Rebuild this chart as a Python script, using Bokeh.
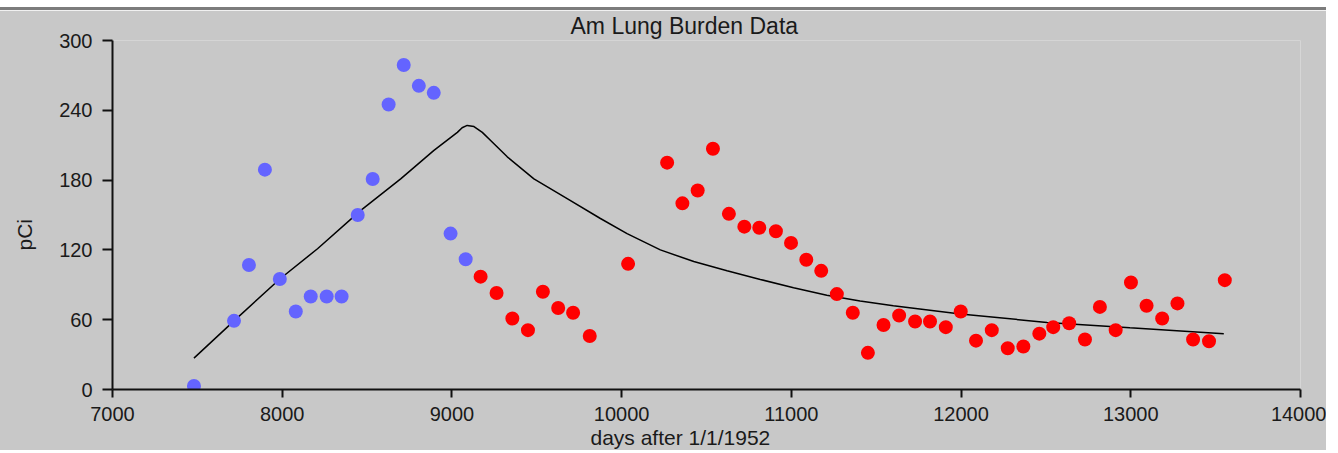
import math
from bokeh.plotting import figure
from bokeh.models import Range1d, FixedTicker, Title
from bokeh.embed import file_html
from bokeh.resources import INLINE

# ---- data ----
blue_x = [7480, 7716, 7804, 7898, 7986, 8080, 8168, 8262, 8350, 8445, 8533,
          8627, 8716, 8805, 8893, 8992, 9081]
blue_y = [3, 59, 107, 189, 95, 67, 80, 80, 80, 150, 181, 245, 279, 261, 255,
          134, 112]

red_x = [9169, 9263, 9356, 9448, 9536, 9626, 9714, 9812, 10038, 10268, 10358,
         10448, 10538, 10632, 10723, 10811, 10909, 10998, 11088, 11176, 11268,
         11362, 11451, 11543, 11635, 11729, 11817, 11910, 11998, 12088, 12181,
         12275, 12367, 12461, 12543, 12637, 12730, 12818, 12911, 13001, 13093,
         13185, 13275, 13367, 13461, 13554]
red_y = [97, 83, 61, 51, 84, 70, 66, 46, 108, 195, 160, 171, 207, 151, 140,
         139, 136, 126, 111.5, 102, 82, 66, 31.5, 55.5, 63.6, 58.5, 58.5, 53.6,
         67, 42, 51, 35.5, 37, 48, 53.6, 57, 43, 71, 51, 92, 72, 61, 74, 43,
         41.5, 94]

model_x = [7480, 7716, 7986, 8208, 8463, 8698, 8894, 9032, 9060, 9090, 9130,
           9179, 9228, 9326, 9483, 9679, 9875, 10032, 10228, 10425, 10621,
           10817, 11013, 11209, 11405, 11601, 11996, 12506, 12995, 13548]
model_y = [27, 59, 95, 121, 154, 181, 205.5, 221, 225, 227, 226, 221, 214,
           200, 181, 164, 147, 134, 120, 110, 102, 94.6, 87.4, 81, 76, 72, 65,
           57.6, 53, 48]

x_ticks = [7000, 8000, 9000, 10000, 11000, 12000, 13000, 14000]
y_ticks = [0, 60, 120, 180, 240, 300]

title_text = "Am Lung Burden Data"
x_label = "days after 1/1/1952"
y_label = "pCi"

BG = "#c8c8c8"
FONT = "Liberation Sans"
TXT = "#1a1a1a"

p = figure(width=1338, height=443, output_backend="svg", toolbar_location=None,
           x_range=Range1d(7000, 14000), y_range=Range1d(0, 300),
           min_border_left=124, min_border_right=26, min_border_top=30,
           min_border_bottom=64, title=None)
p.styles = {"margin-top": "7px", "margin-left": "-12px",
            "border-top": "3px solid #7c7c7c"}
p.background_fill_color = BG
p.border_fill_color = BG
p.outline_line_color = None
p.grid.visible = False

for ax in (p.xaxis[0], p.yaxis[0]):
    ax.axis_line_width = 2
    ax.axis_line_color = "#111111"
    ax.major_tick_line_width = 2
    ax.major_tick_line_color = "#111111"
    ax.major_tick_in = 0
    ax.minor_tick_line_color = None
    ax.major_label_text_font = FONT
    ax.major_label_text_font_size = "20px"
    ax.major_label_text_color = TXT

p.xaxis[0].ticker = FixedTicker(ticks=x_ticks)
p.yaxis[0].ticker = FixedTicker(ticks=y_ticks)
p.xaxis[0].major_tick_out = 8
p.yaxis[0].major_tick_out = 10
p.xaxis[0].major_label_standoff = 9
p.yaxis[0].major_label_standoff = 10

p.line(model_x, model_y, line_color="black", line_width=1.5)
p.scatter(blue_x, blue_y, size=14, fill_color="#6464ff", line_color=None)
p.scatter(red_x, red_y, size=14, fill_color="#ff0000", line_color=None)

p.add_layout(Title(text=title_text, align="left", offset=458, standoff=0,
                   vertical_align="top",
                   text_font=FONT, text_font_size="23px",
                   text_font_style="normal", text_color=TXT), "above")
p.add_layout(Title(text=x_label, align="left", offset=478, standoff=0,
                   text_font=FONT, text_font_size="21px",
                   text_font_style="normal", text_color=TXT), "below")
p.add_layout(Title(text=y_label, align="left", offset=139, standoff=42,
                   text_font=FONT, text_font_size="21px",
                   text_font_style="normal", text_color=TXT), "left")

open("out.html", "w").write(file_html(p, INLINE))
